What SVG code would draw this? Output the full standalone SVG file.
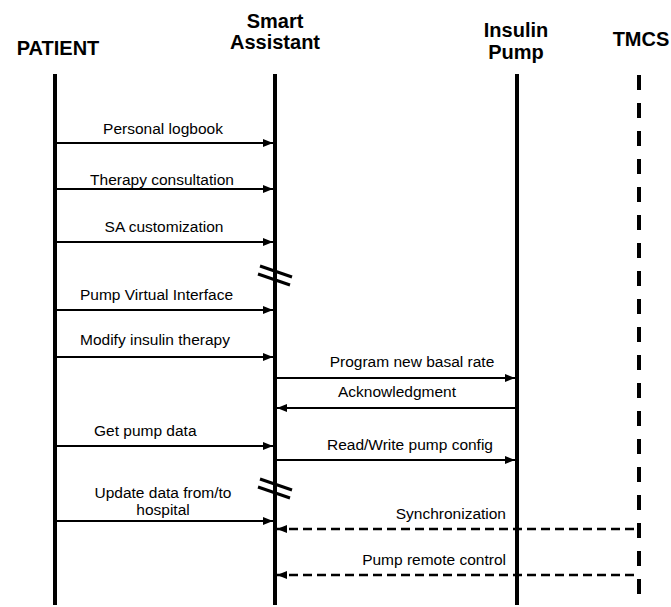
<svg xmlns="http://www.w3.org/2000/svg" width="671" height="607" viewBox="0 0 671 607">
<style>
.hdr{font-family:"Liberation Sans",Arial,sans-serif;font-weight:bold;font-size:20px;fill:#000;text-anchor:middle}
.lbl{font-family:"Liberation Sans",Arial,sans-serif;font-size:15.5px;fill:#000}
.c{text-anchor:middle}
.r{text-anchor:end}
.life{stroke:#000;stroke-width:4;fill:none}
.msg{stroke:#000;stroke-width:2;fill:none}
.dash{stroke:#000;stroke-width:2.5;fill:none;stroke-dasharray:9 5}
.brk{stroke:#000;stroke-width:3;fill:none}
</style>
<defs>
<marker id="ah" viewBox="0 0 10 8" refX="10" refY="4" markerWidth="10" markerHeight="8" markerUnits="userSpaceOnUse" orient="auto">
<path d="M0,0 L10,4 L0,8 Z" fill="#000"/>
</marker>
</defs>
<rect width="671" height="607" fill="#fff"/>
<g id="patient">
<text class="hdr" x="58" y="55">PATIENT</text>
<line class="life" x1="55" y1="74" x2="55" y2="605"/>
</g>
<g id="smart-assistant">
<text class="hdr" x="275" y="28">Smart</text>
<text class="hdr" x="275" y="49">Assistant</text>
<line class="life" x1="275" y1="74" x2="275" y2="605"/>
</g>
<g id="insulin-pump">
<text class="hdr" x="516" y="37">Insulin</text>
<text class="hdr" x="516" y="59">Pump</text>
<line class="life" x1="517" y1="74" x2="517" y2="605"/>
</g>
<g id="tmcs">
<text class="hdr" x="641" y="46">TMCS</text>
<line class="life" x1="639" y1="75" x2="639" y2="605" stroke-dasharray="15 13"/>
</g>
<g id="connectors">
<line class="msg" x1="57" y1="143" x2="273" y2="143" marker-end="url(#ah)"/>
<line class="msg" x1="57" y1="189" x2="273" y2="189" marker-end="url(#ah)"/>
<line class="msg" x1="57" y1="242" x2="273" y2="242" marker-end="url(#ah)"/>
<line class="msg" x1="57" y1="310" x2="273" y2="310" marker-end="url(#ah)"/>
<line class="msg" x1="57" y1="357" x2="273" y2="357" marker-end="url(#ah)"/>
<line class="msg" x1="277" y1="378" x2="515" y2="378" marker-end="url(#ah)"/>
<line class="msg" x1="515" y1="408" x2="277" y2="408" marker-end="url(#ah)"/>
<line class="msg" x1="57" y1="446" x2="273" y2="446" marker-end="url(#ah)"/>
<line class="msg" x1="277" y1="460" x2="515" y2="460" marker-end="url(#ah)"/>
<line class="msg" x1="57" y1="521" x2="273" y2="521" marker-end="url(#ah)"/>
<line class="dash" x1="634" y1="529" x2="277" y2="529" marker-end="url(#ah)"/>
<line class="dash" x1="634" y1="575" x2="277" y2="575" marker-end="url(#ah)"/>
<line class="brk" x1="260" y1="266" x2="292" y2="277"/>
<line class="brk" x1="258" y1="274" x2="290" y2="285"/>
<line class="brk" x1="260" y1="479" x2="292" y2="490"/>
<line class="brk" x1="258" y1="487" x2="290" y2="498"/>
</g>
<g id="labels">
<text class="lbl c" x="163" y="134">Personal logbook</text>
<text class="lbl c" x="162" y="185">Therapy consultation</text>
<text class="lbl c" x="164" y="232">SA customization</text>
<text class="lbl" x="80" y="300">Pump Virtual Interface</text>
<text class="lbl" x="80" y="345">Modify insulin therapy</text>
<text class="lbl c" x="412" y="367">Program new basal rate</text>
<text class="lbl c" x="397" y="397">Acknowledgment</text>
<text class="lbl" x="94" y="436">Get pump data</text>
<text class="lbl c" x="410" y="450">Read/Write pump config</text>
<text class="lbl c" x="163" y="498">Update data from/to</text>
<text class="lbl c" x="163" y="515">hospital</text>
<text class="lbl r" x="506" y="519">Synchronization</text>
<text class="lbl r" x="506" y="565">Pump remote control</text>
</g>
</svg>
